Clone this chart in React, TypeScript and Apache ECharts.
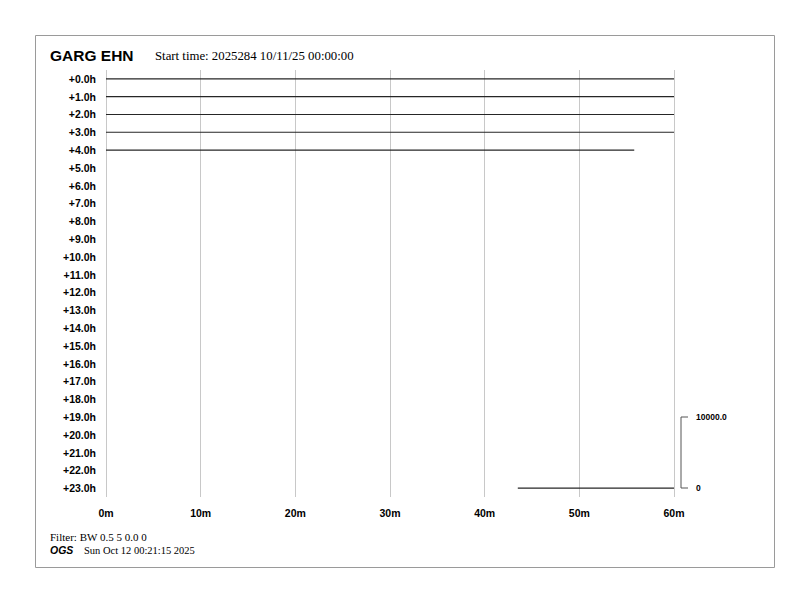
import React, { useEffect, useRef } from "react";
import * as echarts from "echarts";

// Hour offsets shown down the left side, one per helicorder row
const hourLabels = [
  "+0.0h", "+1.0h", "+2.0h", "+3.0h", "+4.0h", "+5.0h", "+6.0h", "+7.0h",
  "+8.0h", "+9.0h", "+10.0h", "+11.0h", "+12.0h", "+13.0h", "+14.0h", "+15.0h",
  "+16.0h", "+17.0h", "+18.0h", "+19.0h", "+20.0h", "+21.0h", "+22.0h", "+23.0h",
];

// Minute ticks along the bottom
const minuteTicks = [0, 10, 20, 30, 40, 50, 60];

// Trace segments: row index, start minute, end minute
const traceRows = [0, 1, 2, 3, 4, 23];
const traceStartMin = [0, 0, 0, 0, 0, 43.5];
const traceEndMin = [60, 60, 60, 60, 55.8, 60];

// Amplitude scale bar values
const scaleValues = [0, 10000.0];

const SANS = "'Liberation Sans', Arial, Helvetica, sans-serif";
const SERIF = "'Liberation Serif', 'Times New Roman', serif";

export default function App() {
  const ref = useRef<HTMLDivElement>(null);

  useEffect(() => {
    if (!ref.current) return;
    const chart = echarts.init(ref.current, null, { renderer: "svg" });

    const series = traceRows.map((row, i) => ({
      type: "line" as const,
      data: [
        [traceStartMin[i], hourLabels[row]],
        [traceEndMin[i], hourLabels[row]],
      ],
      symbol: "none",
      lineStyle: { color: "#262626", width: 1.2 },
      silent: true,
    }));

    // scale bar geometry (pixels) next to the last row
    const barX = 681;
    const barBottom = 488;
    const barTop = 417;

    chart.setOption({
      animation: false,
      backgroundColor: "#ffffff",
      grid: { left: 106, right: 118, top: 70, bottom: 115 },
      xAxis: {
        type: "value",
        min: minuteTicks[0],
        max: minuteTicks[minuteTicks.length - 1],
        interval: 10,
        axisLine: { show: false },
        axisTick: { show: false },
        splitLine: { show: true, lineStyle: { color: "#c8c8c8", width: 1 } },
        axisLabel: {
          margin: 10,
          fontFamily: SANS,
          fontWeight: "bold",
          fontSize: 10.5,
          color: "#000",
          formatter: (v: number) => `${v}m`,
        },
      },
      yAxis: {
        type: "category",
        data: hourLabels,
        inverse: true,
        boundaryGap: true,
        axisLine: { show: false },
        axisTick: { show: false },
        splitLine: { show: false },
        axisLabel: {
          margin: 10,
          fontFamily: SANS,
          fontWeight: "bold",
          fontSize: 10.5,
          color: "#000",
        },
      },
      series,
      graphic: [
        {
          type: "rect",
          shape: { x: 35.5, y: 35.5, width: 739, height: 532 },
          style: { fill: "none", stroke: "#9a9a9a", lineWidth: 1 },
          silent: true,
        },
        {
          type: "text",
          x: 50,
          y: 55,
          style: {
            text: "GARG EHN",
            font: `bold 15.5px ${SANS}`,
            fill: "#000",
            verticalAlign: "middle",
          },
        },
        {
          type: "text",
          x: 155,
          y: 56,
          style: {
            text: "Start time: 2025284 10/11/25 00:00:00",
            font: `12.8px ${SERIF}`,
            fill: "#000",
            verticalAlign: "middle",
          },
        },
        // amplitude scale bar
        {
          type: "line",
          shape: { x1: barX, y1: barTop, x2: barX, y2: barBottom },
          style: { stroke: "#555", lineWidth: 1 },
        },
        {
          type: "line",
          shape: { x1: barX, y1: barTop, x2: barX + 7, y2: barTop },
          style: { stroke: "#555", lineWidth: 1 },
        },
        {
          type: "line",
          shape: { x1: barX, y1: barBottom, x2: barX + 7, y2: barBottom },
          style: { stroke: "#555", lineWidth: 1 },
        },
        {
          type: "text",
          x: 696,
          y: barTop,
          style: {
            text: scaleValues[1].toFixed(1),
            font: `bold 8.5px ${SANS}`,
            fill: "#000",
            verticalAlign: "middle",
          },
        },
        {
          type: "text",
          x: 696,
          y: barBottom,
          style: {
            text: String(scaleValues[0]),
            font: `bold 8.5px ${SANS}`,
            fill: "#000",
            verticalAlign: "middle",
          },
        },
        // footer
        {
          type: "text",
          x: 50,
          y: 537,
          style: {
            text: "Filter: BW 0.5 5 0.0 0",
            font: `11px ${SERIF}`,
            fill: "#000",
            verticalAlign: "middle",
          },
        },
        {
          type: "text",
          x: 50,
          y: 550,
          style: {
            text: "OGS",
            font: `italic bold 10.5px ${SANS}`,
            fill: "#000",
            verticalAlign: "middle",
          },
        },
        {
          type: "text",
          x: 84,
          y: 550,
          style: {
            text: "Sun Oct 12 00:21:15 2025",
            font: `10.5px ${SERIF}`,
            fill: "#000",
            verticalAlign: "middle",
          },
        },
      ],
    });

    return () => chart.dispose();
  }, []);

  return (
    <div
      ref={ref}
      style={{ position: "absolute", left: 0, top: 0, width: 792, height: 612 }}
    />
  );
}
